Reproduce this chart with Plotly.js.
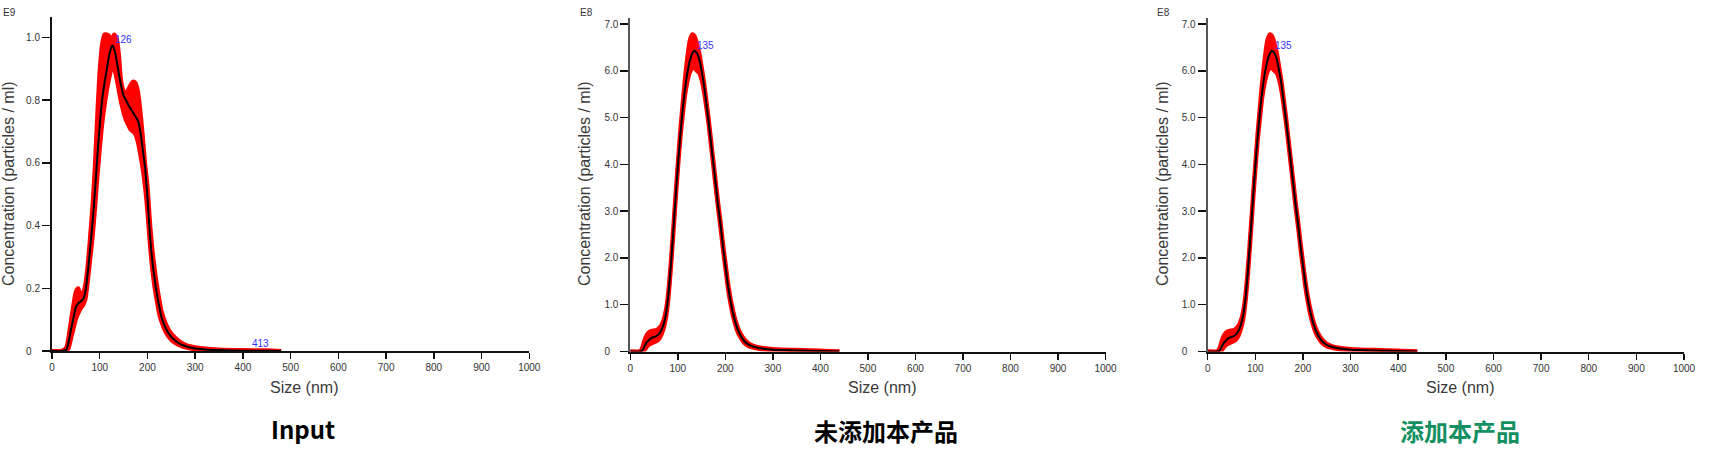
<!DOCTYPE html>
<html>
<head>
<meta charset="utf-8">
<script src="https://cdn.plot.ly/plotly-3.0.1.min.js"></script>
<style>
  html, body { margin: 0; padding: 0; background: #fff; }
  #chart { width: 1732px; height: 457px; }
</style>
</head>
<body>
<div id="chart"></div>
<script>
// ---------- Data ----------
// Panel 1: Input (concentration in E9 particles/ml)
const sizes1 = [0, 20, 30, 35, 40, 45, 50, 55, 60, 65,
  70, 75, 80, 85, 90, 95, 100, 105, 110, 115,
  120, 126, 130, 135, 140, 145, 150, 155, 160, 165,
  170, 175, 180, 185, 190, 195, 200, 205, 210, 215,
  220, 225, 230, 240, 250, 260, 270, 280, 290, 300,
  320, 350, 400, 450, 480];
const mean1 = [0, 0, 0.005, 0.03, 0.07, 0.105, 0.14, 0.152, 0.158, 0.165,
  0.19, 0.25, 0.33, 0.41, 0.51, 0.62, 0.72, 0.80, 0.855, 0.90,
  0.945, 0.975, 0.965, 0.93, 0.885, 0.845, 0.815, 0.80, 0.785, 0.772,
  0.76, 0.748, 0.735, 0.70, 0.645, 0.585, 0.49, 0.375, 0.29, 0.23,
  0.18, 0.14, 0.105, 0.067, 0.045, 0.031, 0.021, 0.015, 0.011, 0.008,
  0.005, 0.003, 0.001, 0.0005, 0];
const upper1 = [0, 0, 0.012, 0.05, 0.10, 0.15, 0.19, 0.20, 0.18, 0.185,
  0.215, 0.28, 0.37, 0.47, 0.60, 0.76, 0.90, 0.98, 1.01, 1.01,
  1.005, 0.99, 1.01, 1.0, 0.95, 0.86, 0.83, 0.82, 0.835, 0.85,
  0.86, 0.855, 0.83, 0.77, 0.69, 0.60, 0.53, 0.42, 0.33, 0.265,
  0.21, 0.165, 0.125, 0.082, 0.056, 0.04, 0.028, 0.02, 0.015, 0.012,
  0.008, 0.005, 0.003, 0.002, 0];
const lower1 = [0, 0, 0, 0.01, 0.04, 0.07, 0.10, 0.12, 0.135, 0.145,
  0.165, 0.22, 0.29, 0.36, 0.45, 0.55, 0.64, 0.72, 0.78, 0.83,
  0.87, 0.905, 0.90, 0.87, 0.83, 0.79, 0.76, 0.735, 0.72, 0.705,
  0.70, 0.69, 0.665, 0.625, 0.58, 0.52, 0.44, 0.34, 0.26, 0.20,
  0.155, 0.115, 0.09, 0.055, 0.035, 0.024, 0.016, 0.011, 0.008, 0.005,
  0.003, 0.001, 0, 0, 0];

// Panel 2: 未添加本产品 (concentration in E8 particles/ml)
const sizes2 = [0, 20, 25, 30, 35, 40, 45, 50, 55, 60,
  65, 70, 75, 80, 85, 90, 95, 100, 105, 110,
  115, 120, 125, 130, 135, 140, 145, 150, 155, 160,
  165, 170, 175, 180, 185, 190, 195, 200, 205, 210,
  215, 220, 225, 230, 240, 250, 260, 270, 280, 300,
  320, 350, 400, 440];
const mean2 = [0, 0, 0.02, 0.12, 0.2, 0.25, 0.29, 0.31, 0.33, 0.37,
  0.45, 0.58, 0.8, 1.2, 1.8, 2.5, 3.25, 3.95, 4.6, 5.15,
  5.6, 5.95, 6.2, 6.36, 6.43, 6.38, 6.25, 6.0, 5.7, 5.3,
  4.9, 4.45, 4.0, 3.55, 3.1, 2.7, 2.25, 1.85, 1.45, 1.13,
  0.87, 0.66, 0.5, 0.38, 0.22, 0.14, 0.1, 0.075, 0.06, 0.04,
  0.03, 0.02, 0.01, 0];
const upper2 = [0, 0, 0.08, 0.25, 0.36, 0.42, 0.44, 0.45, 0.46, 0.5,
  0.56, 0.68, 0.9, 1.3, 1.9, 2.6, 3.35, 4.05, 4.72, 5.3,
  5.85, 6.3, 6.65, 6.78, 6.75, 6.6, 6.4, 6.1, 5.78, 5.38,
  4.98, 4.53, 4.08, 3.63, 3.18, 2.78, 2.33, 1.93, 1.53, 1.2,
  0.94, 0.72, 0.56, 0.43, 0.26, 0.17, 0.12, 0.09, 0.075, 0.055,
  0.045, 0.035, 0.02, 0];
const lower2 = [0, 0, 0, 0.03, 0.1, 0.15, 0.17, 0.2, 0.22, 0.26,
  0.34, 0.48, 0.7, 1.1, 1.7, 2.4, 3.15, 3.85, 4.5, 5.0,
  5.45, 5.75, 5.95, 6.05, 6.05, 6.0, 5.95, 5.8, 5.55, 5.2,
  4.82, 4.37, 3.92, 3.47, 3.02, 2.62, 2.17, 1.77, 1.37, 1.06,
  0.8, 0.6, 0.44, 0.33, 0.18, 0.11, 0.08, 0.06, 0.045, 0.028,
  0.02, 0.01, 0.004, 0];

// Panel 3: 添加本产品 (concentration in E8 particles/ml)
const sizes3 = [0, 20, 25, 30, 35, 40, 45, 50, 55, 60,
  65, 70, 75, 80, 85, 90, 95, 100, 105, 110,
  115, 120, 125, 130, 135, 140, 145, 150, 155, 160,
  165, 170, 175, 180, 185, 190, 195, 200, 205, 210,
  215, 220, 225, 230, 240, 250, 260, 270, 280, 300,
  320, 350, 400, 440];
const mean3 = [0, 0, 0.02, 0.12, 0.2, 0.25, 0.29, 0.31, 0.33, 0.37,
  0.45, 0.58, 0.8, 1.2, 1.8, 2.5, 3.25, 3.95, 4.6, 5.15,
  5.6, 5.95, 6.2, 6.36, 6.43, 6.38, 6.25, 6.0, 5.7, 5.3,
  4.9, 4.45, 4.0, 3.55, 3.1, 2.7, 2.25, 1.85, 1.45, 1.13,
  0.87, 0.66, 0.5, 0.38, 0.22, 0.14, 0.1, 0.075, 0.06, 0.04,
  0.03, 0.02, 0.01, 0];
const upper3 = [0, 0, 0.08, 0.25, 0.36, 0.42, 0.44, 0.45, 0.46, 0.5,
  0.56, 0.68, 0.9, 1.3, 1.9, 2.6, 3.35, 4.05, 4.72, 5.3,
  5.85, 6.3, 6.65, 6.78, 6.75, 6.6, 6.4, 6.1, 5.78, 5.38,
  4.98, 4.53, 4.08, 3.63, 3.18, 2.78, 2.33, 1.93, 1.53, 1.2,
  0.94, 0.72, 0.56, 0.43, 0.26, 0.17, 0.12, 0.09, 0.075, 0.055,
  0.045, 0.035, 0.02, 0];
const lower3 = [0, 0, 0, 0.03, 0.1, 0.15, 0.17, 0.2, 0.22, 0.26,
  0.34, 0.48, 0.7, 1.1, 1.7, 2.4, 3.15, 3.85, 4.5, 5.0,
  5.45, 5.75, 5.95, 6.05, 6.05, 6.0, 5.95, 5.8, 5.55, 5.2,
  4.82, 4.37, 3.92, 3.47, 3.02, 2.62, 2.17, 1.77, 1.37, 1.06,
  0.8, 0.6, 0.44, 0.33, 0.18, 0.11, 0.08, 0.06, 0.045, 0.028,
  0.02, 0.01, 0.004, 0];

// Tick labels
const xTickVals = [0, 100, 200, 300, 400, 500, 600, 700, 800, 900, 1000];
const xTickText = ["0", "100", "200", "300", "400", "500", "600", "700", "800", "900", "1000"];
const yTickVals1 = [0, 0.2, 0.4, 0.6, 0.8, 1.0];
const yTickText1 = ["0\u00a0\u00a0\u00a0", "0.2", "0.4", "0.6", "0.8", "1.0"];
const yTickVals2 = [0, 1, 2, 3, 4, 5, 6, 7];
const yTickText2 = ["0\u00a0\u00a0\u00a0", "1.0", "2.0", "3.0", "4.0", "5.0", "6.0", "7.0"];

// Text
const panelCaptions = ["Input", "未添加本产品", "添加本产品"];
const exponentLabels = ["E9", "E8", "E8"];
const peakLabels = [126, 135, 135];
const extraLabelSize = 413;
const xTitle = "Size (nm)";
const yTitle = "Concentration (particles / ml)";

// ---------- Layout helpers ----------
const W = 1732, H = 457;
const px = v => v / W;
const py = v => 1 - v / H;
const FONT = "Liberation Sans, Arial, sans-serif";
const CJK = "\"Noto Sans CJK SC\", \"Noto Sans\", sans-serif";

function bandTraces(xs, lo, up, mean, xa, ya) {
  return [
    { x: xs, y: lo, xaxis: xa, yaxis: ya, type: "scatter", mode: "lines",
      line: { color: "#ff0000", width: 4, shape: "spline", smoothing: 0.7 },
      hoverinfo: "skip", showlegend: false },
    { x: xs, y: up, xaxis: xa, yaxis: ya, type: "scatter", mode: "lines",
      fill: "tonexty", fillcolor: "#ff0000",
      line: { color: "#ff0000", width: 4, shape: "spline", smoothing: 0.7 },
      hoverinfo: "skip", showlegend: false },
    { x: xs, y: mean, xaxis: xa, yaxis: ya, type: "scatter", mode: "lines",
      line: { color: "#000000", width: 2, shape: "spline", smoothing: 0.7 },
      showlegend: false }
  ];
}

const data = [].concat(
  bandTraces(sizes1, lower1, upper1, mean1, "x", "y"),
  bandTraces(sizes2, lower2, upper2, mean2, "x2", "y2"),
  bandTraces(sizes3, lower3, upper3, mean3, "x3", "y3")
);

function xAxis(d0, d1, anchor) {
  return {
    domain: [px(d0), px(d1)], anchor: anchor, range: [0, 1000],
    tickmode: "array", tickvals: xTickVals, ticktext: xTickText,
    ticks: "outside", ticklen: 6, tickwidth: 1.5, tickcolor: "#111",
    showline: true, linecolor: "#111", linewidth: 2,
    showgrid: false, zeroline: false,
    tickfont: { family: FONT, size: 10, color: "#333" }
  };
}
function yAxis(bottom, top, range, vals, text, anchor, lc) {
  return {
    domain: [py(bottom), py(top)], anchor: anchor, range: range,
    tickmode: "array", tickvals: vals, ticktext: text,
    ticks: "outside", ticklen: 8, tickwidth: 1.5, tickcolor: "#111",
    showline: true, linecolor: lc, linewidth: 2,
    showgrid: false, zeroline: false,
    tickfont: { family: FONT, size: 10, color: "#333" }
  };
}

function peakIdx(arr) { let m = 0; arr.forEach((v, i) => { if (v > arr[m]) m = i; }); return m; }

const annotations = [];
// exponent labels
[[1, "E9"], [578, "E8"], [1155, "E8"]].forEach((p, i) => {
  annotations.push({ xref: "paper", yref: "paper", x: px(p[0]), y: py(12), xanchor: "left", yanchor: "middle",
    text: exponentLabels[i], showarrow: false, font: { family: FONT, size: 10, color: "#333" } });
});
// y titles
[8, 584, 1162].forEach(cx => {
  annotations.push({ xref: "paper", yref: "paper", x: px(cx), y: py(184), xanchor: "center", yanchor: "middle",
    textangle: -90, text: yTitle, showarrow: false, font: { family: FONT, size: 16, color: "#3a3a3a" } });
});
// x titles
[304, 882, 1460].forEach(cx => {
  annotations.push({ xref: "paper", yref: "paper", x: px(cx), y: py(387), xanchor: "center", yanchor: "middle",
    text: xTitle, showarrow: false, font: { family: FONT, size: 16, color: "#3a3a3a" } });
});
// captions
const capColors = ["#000000", "#000000", "#12905f"];
[[303, 428], [886, 430], [1460, 430]].forEach((p, i) => {
  annotations.push({ xref: "paper", yref: "paper", x: px(p[0]), y: py(p[1]), xanchor: "center", yanchor: "middle",
    text: panelCaptions[i], showarrow: false,
    font: { family: CJK, size: 24, color: capColors[i], weight: "bold" } });
});
// peak labels
const series = [[sizes1, mean1, "x", "y"], [sizes2, mean2, "x2", "y2"], [sizes3, mean3, "x3", "y3"]];
series.forEach((s, i) => {
  const k = peakIdx(s[1]);
  annotations.push({ xref: s[2], yref: s[3], x: peakLabels[i], y: s[1][k], xanchor: "left", yanchor: "middle",
    xshift: 1, yshift: 5.5, text: String(peakLabels[i]), showarrow: false,
    font: { family: FONT, size: 10, color: "#3333ff" } });
});
annotations.push({ xref: "x", yref: "y", x: extraLabelSize, y: 0, xanchor: "left", yanchor: "middle",
  xshift: 1, yshift: 8, text: String(extraLabelSize), showarrow: false,
  font: { family: FONT, size: 10, color: "#3333ff" } });

const layout = {
  width: W, height: H,
  margin: { l: 0, r: 0, t: 0, b: 0, pad: 0 },
  paper_bgcolor: "#ffffff", plot_bgcolor: "rgba(0,0,0,0)",
  showlegend: false,
  xaxis: xAxis(52, 529.3, "y"),
  yaxis: yAxis(351, 17, [0, 1.0655], yTickVals1, yTickText1, "x", "#111"),
  xaxis2: xAxis(630.3, 1105.5, "y2"),
  yaxis2: yAxis(351.5, 17.5, [0, 7.14], yTickVals2, yTickText2, "x2", "#555"),
  xaxis3: xAxis(1207.7, 1684, "y3"),
  yaxis3: yAxis(351.5, 17.5, [0, 7.14], yTickVals2, yTickText2, "x3", "#555"),
  annotations: annotations
};

Plotly.newPlot("chart", data, layout, { staticPlot: true, displayModeBar: false });
</script>
</body>
</html>
